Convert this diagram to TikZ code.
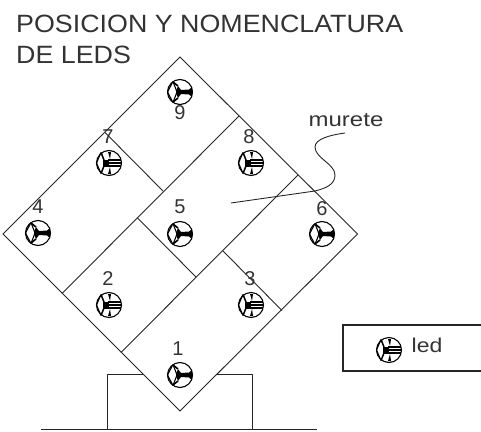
\documentclass[tikz,border=0pt]{standalone}
\usepackage{fontspec}
\setmainfont{Liberation Sans}
\tikzset{
  wall/.style={line width=0.9pt,black!85},
  lbl/.style={inner sep=0pt,font=\fontsize{20}{20}\selectfont,text=black!80},
  ttl/.style={inner sep=0pt,anchor=base west,font=\fontsize{25}{25}\selectfont,text=black!80},
  ledbody/.style={line width=1.1pt,black},
  pics/ledA/.style={code={
    \draw[ledbody] (0,0) circle (12.5);
    \draw[ledbody] (-3,0) -- (-7,-10.5) (-3,0) -- (-7,10.5);
    \draw[ledbody] (-12.5,0) -- (-7,-10.5) (-12.5,0) -- (-7,10.5);
    \fill[black] (-4,-1) -- (-2,-6) -- (1,-2) -- (9,-2.5) -- (12,-5) -- (12,5) -- (9,2.5) -- (1,2) -- (-2,6) -- (-4,1) -- cycle;
    \draw[line width=1.6pt,black] (-2,-6) -- (-7,-10) (-2,6) -- (-7,10);
  }},
  pics/ledB/.style={code={
    \draw[ledbody] (0,0) circle (12.5);
    \draw[ledbody] (-1,-3) -- (12,-3) (-1,3) -- (12,3) (-1,0) -- (12,0);
    \fill[black] (-6,-3.5) rectangle (0,3.5);
    \draw[line width=1.5pt,black] (-5,-3) -- (-8,-10.5) (-5,3) -- (-8,10.5);
    \draw[ledbody] (-12.5,0) -- (-8,-10.5) (-12.5,0) -- (-8,10.5);
    \fill[black] (-1,-11) -- (2,-11) -- (1,-4) -- cycle;
    \fill[black] (-1,11) -- (2,11) -- (1,4) -- cycle;
  }}
}
\begin{document}
\begin{tikzpicture}[x=1pt,y=-1pt]
\useasboundingbox (0,0) rectangle (481,431);
% outline
\coordinate (T) at (180,57);
\coordinate (R) at (357.5,234);
\coordinate (B) at (180,411);
\coordinate (L) at (3,234);
\draw[wall,line join=miter] (T) -- (R) -- (B) -- (L) -- cycle;
% inner walls
\coordinate (a1) at (239,116);
\coordinate (a2) at (62,293.5);
\coordinate (b1) at (298,175);
\coordinate (b2) at (121,352.5);
\draw[wall] (a1) -- (a2);
\draw[wall] (b1) -- (b2);
\coordinate (c1) at (105,132.5);
\coordinate (c2) at (163,191);
\coordinate (d1) at (223,251);
\coordinate (d2) at (282,310.5);
\coordinate (e1) at (137.5,218);
\coordinate (e2) at (196,277);
\draw[wall] (c1) -- (c2);
\draw[wall] (d1) -- (d2);
\draw[wall] (e1) -- (e2);
% base
\coordinate (g1) at (41,429);
\coordinate (g2) at (317,429);
\coordinate (p1) at (107,429);
\coordinate (p2) at (107,374);
\coordinate (p3) at (144,374);
\coordinate (q1) at (252,429);
\coordinate (q2) at (252,374);
\coordinate (q3) at (217,374);
\draw[wall] (g1) -- (g2);
\draw[wall] (p1) -- (p2) -- (p3);
\draw[wall] (q1) -- (q2) -- (q3);
% leader
\coordinate (m0) at (231,203);
\coordinate (m1) at (315,191);
\coordinate (m2) at (335,175);
\coordinate (m3) at (315,147);
\coordinate (m4) at (345,133);
\draw[wall] (m0) -- (m1) .. controls (327,188) and (335,184) .. (m2)
  .. controls (335,164) and (315,158) .. (m3)
  .. controls (315,139) and (330,135) .. (m4);
% leds
\pic at (180,92) {ledA};
\pic at (251,163) {ledB};
\pic at (109,163) {ledB};
\pic at (180,234) {ledA};
\pic at (38,233) {ledA};
\pic at (322,234) {ledA};
\pic at (109,305) {ledB};
\pic at (251,305) {ledB};
\pic at (180,375) {ledA};
% numbers
\node[lbl] (n9) at (180,113) {9};
\node[lbl] (n8) at (249,137) {8};
\node[lbl] (n7) at (108,137) {7};
\node[lbl] (n5) at (180,207) {5};
\node[lbl] (n4) at (38,207) {4};
\node[lbl] (n6) at (322,209) {6};
\node[lbl] (n2) at (108,279) {2};
\node[lbl] (n3) at (250,279) {3};
\node[lbl] (n1) at (178,349) {1};
% texts
\node[ttl,xscale=1.073] (t1) at (16,32) {POSICION Y NOMENCLATURA};
\node[ttl,xscale=1.073] (t2) at (16,63) {DE LEDS};
\node[lbl,xscale=1.2] (mu) at (346,120) {murete};
% legend
\coordinate (k1) at (481,325);
\coordinate (k2) at (343,325);
\coordinate (k3) at (343,371);
\coordinate (k4) at (481,371);
\draw[wall,line width=1.1pt] (k1) -- (k2) -- (k3) -- (k4);
\pic at (389,350) {ledB};
\node[lbl,xscale=1.15] (ld) at (427,345) {led};
\end{tikzpicture}
\end{document}
